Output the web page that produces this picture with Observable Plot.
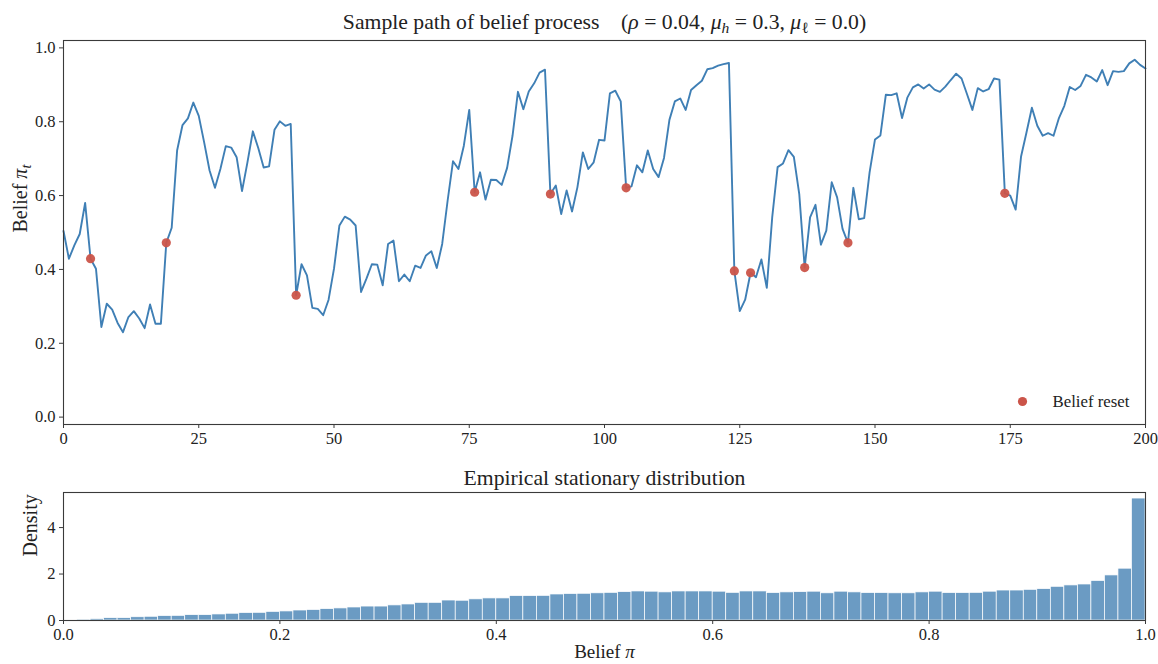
<!DOCTYPE html>
<html><head><meta charset="utf-8">
<script src="https://cdn.jsdelivr.net/npm/d3@7"></script>
<script src="https://cdn.jsdelivr.net/npm/@observablehq/plot@0.6"></script>
<style>
body{margin:0;background:#fff;}
#chart{position:relative;width:1158px;height:664px;background:#fff;}
svg{display:block;}
</style></head><body><div id="chart"></div>
<script>
// ---- data ----
const beliefs = [
0.504,0.429,0.465,0.496,0.580,0.429,0.402,0.244,0.307,0.291,
0.255,0.230,0.271,0.287,0.267,0.241,0.305,0.253,0.253,0.472,
0.513,0.722,0.791,0.809,0.852,0.816,0.744,0.668,0.621,0.672,
0.734,0.730,0.704,0.612,0.690,0.774,0.729,0.676,0.679,0.778,
0.801,0.789,0.794,0.330,0.414,0.384,0.296,0.293,0.276,0.318,
0.402,0.519,0.543,0.535,0.519,0.339,0.375,0.414,0.413,0.357,
0.469,0.478,0.368,0.386,0.368,0.410,0.404,0.438,0.449,0.404,
0.469,0.586,0.693,0.672,0.735,0.832,0.609,0.663,0.589,0.643,
0.642,0.629,0.675,0.762,0.881,0.834,0.882,0.904,0.933,0.941,
0.604,0.627,0.550,0.614,0.557,0.623,0.717,0.672,0.690,0.751,
0.749,0.877,0.884,0.855,0.621,0.625,0.682,0.663,0.722,0.672,
0.650,0.702,0.805,0.855,0.863,0.832,0.886,0.899,0.911,0.942,
0.945,0.952,0.956,0.959,0.396,0.287,0.318,0.391,0.379,0.427,
0.350,0.541,0.677,0.687,0.723,0.705,0.604,0.405,0.541,0.575,
0.467,0.505,0.636,0.595,0.510,0.472,0.621,0.536,0.539,0.663,
0.752,0.763,0.873,0.872,0.877,0.810,0.866,0.893,0.901,0.890,
0.901,0.887,0.881,0.895,0.913,0.930,0.917,0.875,0.832,0.891,
0.882,0.888,0.917,0.914,0.606,0.600,0.562,0.706,0.771,0.838,
0.789,0.762,0.769,0.762,0.810,0.843,0.894,0.886,0.897,0.927,
0.920,0.909,0.940,0.899,0.937,0.935,0.937,0.958,0.968,0.954,
0.944];
const resetTimes = [5,19,43,76,90,104,124,127,137,145,174];
const densities = [
0.03,0.04,0.06,0.10,0.10,0.14,0.16,0.19,0.20,0.23,
0.23,0.26,0.29,0.32,0.33,0.37,0.39,0.43,0.45,0.49,
0.52,0.56,0.60,0.60,0.65,0.69,0.76,0.76,0.86,0.85,
0.91,0.95,0.95,1.05,1.05,1.06,1.12,1.14,1.15,1.17,
1.19,1.22,1.25,1.24,1.21,1.25,1.25,1.25,1.24,1.19,
1.25,1.25,1.18,1.21,1.22,1.24,1.17,1.24,1.21,1.18,
1.18,1.17,1.17,1.21,1.24,1.18,1.18,1.19,1.24,1.29,
1.29,1.32,1.35,1.45,1.51,1.55,1.70,1.94,2.23,5.25];
const binWidth = 1 / densities.length;
const xTicksTop = [0,25,50,75,100,125,150,175,200];
const yTicksTop = [0,0.2,0.4,0.6,0.8,1.0];
const xTicksBottom = [0,0.2,0.4,0.6,0.8,1.0];
const yTicksBottom = [0,2,4];

const path = beliefs.map((v,i)=>({t:i, v}));
const resets = resetTimes.map(t=>({t, v:beliefs[t]}));
const hist = densities.map((d,i)=>({x0:i*binWidth, x1:(i+1)*binWidth, d}));

const FONT = "'Liberation Serif', 'DejaVu Serif', serif";
const INK = "#222";
const SPINE = "#3a3a3a";
const LINE = "#3f7fb5";
const RED = "#cb5449";

function rich(textSel, segs){
  textSel.text(null);
  let shifted = 0;
  segs.forEach(s=>{
    const ts = textSel.append("tspan").text(s.t);
    if (s.i) ts.attr("font-style","italic");
    if (s.sub) { ts.attr("font-size","72%").attr("dy", 4 - shifted); shifted = 4; }
    else if (shifted) { ts.attr("dy", -shifted); shifted = 0; }
  });
}

const topPlot = Plot.plot({
  width:1158, height:455,
  marginTop:40, marginBottom:31, marginLeft:63, marginRight:13,
  style:{fontFamily:FONT, fontSize:"16.5px", color:INK, background:"#fff"},
  x:{domain:[0,200]},
  y:{domain:[-0.02,1.02]},
  marks:[
    Plot.line(path,{x:"t", y:"v", stroke:LINE, strokeWidth:1.9, strokeLinejoin:"round"}),
    Plot.dot(resets,{x:"t", y:"v", r:4.6, fill:RED, fillOpacity:0.95, stroke:"none"}),
    Plot.frame({stroke:SPINE, strokeWidth:1.1}),
    Plot.axisX({ticks:xTicksTop, tickSize:4, tickPadding:4, label:null, fontSize:16.5, stroke:SPINE}),
    Plot.axisY({ticks:yTicksTop, tickSize:4, tickPadding:4, label:null, fontSize:16.5, tickFormat:d3.format(".1f"), stroke:SPINE}),
    Plot.dot([0],{frameAnchor:"bottom-right", dx:-123, dy:-23, r:4.6, fill:RED, stroke:"none"}),
    Plot.text(["Belief reset"],{frameAnchor:"bottom-right", dx:-93, dy:-23, textAnchor:"start", lineAnchor:"middle", fontSize:16.8, fill:INK}),
    Plot.text(["title"],{frameAnchor:"top", dy:-18, lineAnchor:"middle", fontSize:21.7, fill:INK, className:"ttl-top"}),
    Plot.text(["ylab"],{frameAnchor:"left", dx:-43, rotate:-90, lineAnchor:"middle", fontSize:20, fill:INK, className:"ylab-top"})
  ]
});

const botPlot = Plot.plot({
  width:1158, height:209,
  marginTop:37, marginBottom:44, marginLeft:63, marginRight:13,
  style:{fontFamily:FONT, fontSize:"16.5px", color:INK, background:"#fff"},
  x:{domain:[0,1]},
  y:{domain:[0,5.51]},
  marks:[
    Plot.rectY(hist,{x1:"x0", x2:"x1", y:"d", fill:"#4682b4", fillOpacity:0.8, stroke:"#fff", strokeWidth:0.7}),
    Plot.frame({stroke:SPINE, strokeWidth:1.1}),
    Plot.axisX({ticks:xTicksBottom, tickSize:4, tickPadding:4, label:null, fontSize:16.5, tickFormat:d3.format(".1f"), stroke:SPINE}),
    Plot.axisY({ticks:yTicksBottom, tickSize:4, tickPadding:4, label:null, fontSize:16.5, tickFormat:d3.format("d"), stroke:SPINE}),
    Plot.text(["Empirical stationary distribution"],{frameAnchor:"top", dy:-14, lineAnchor:"middle", fontSize:21.7, fill:INK}),
    Plot.text(["xlab"],{frameAnchor:"bottom", dy:31, lineAnchor:"middle", fontSize:19, fill:INK, className:"xlab-bot"}),
    Plot.text(["Density"],{frameAnchor:"left", dx:-33, rotate:-90, lineAnchor:"middle", fontSize:20, fill:INK})
  ]
});

const root = document.getElementById("chart");
root.appendChild(topPlot);
root.appendChild(botPlot);

rich(d3.select(topPlot).select("g.ttl-top text"), [
  {t:"Sample path of belief process\u2002\u2002("},
  {t:"\u03c1", i:true},{t:" = 0.04, "},
  {t:"\u03bc", i:true},{t:"h", i:true, sub:true},{t:" = 0.3, "},
  {t:"\u03bc", i:true},{t:"\u2113", sub:true},{t:" = 0.0)"}
]);
rich(d3.select(topPlot).select("g.ylab-top text"), [
  {t:"Belief "},{t:"\u03c0", i:true},{t:"t", i:true, sub:true}
]);
rich(d3.select(botPlot).select("g.xlab-bot text"), [
  {t:"Belief "},{t:"\u03c0", i:true}
]);
</script>
</body></html>
